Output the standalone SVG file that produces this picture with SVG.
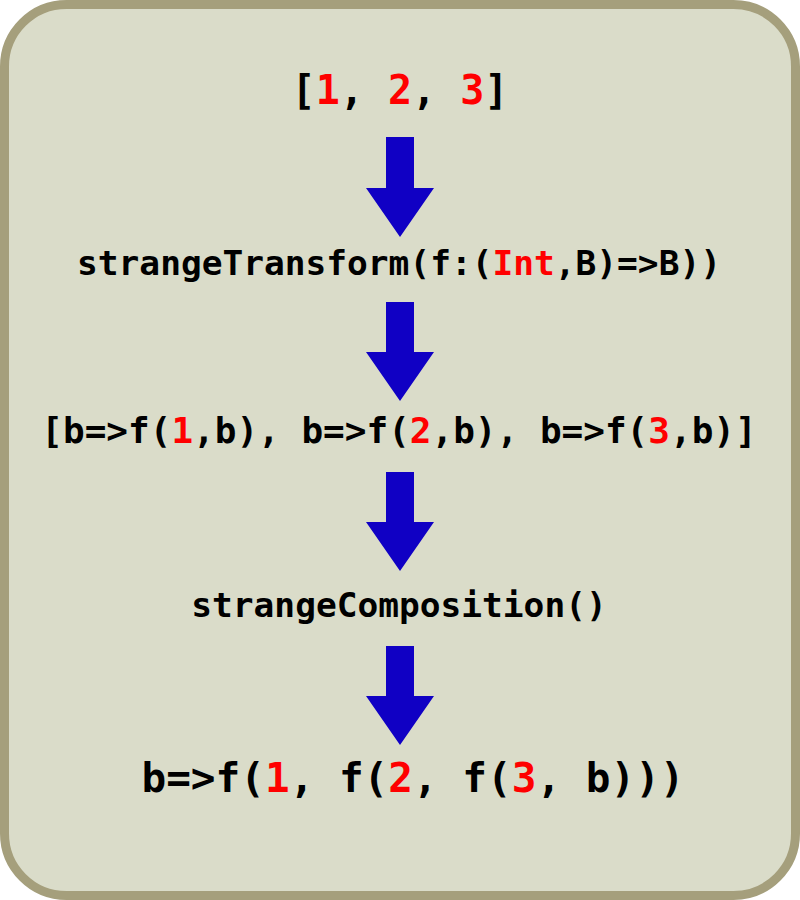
<svg xmlns="http://www.w3.org/2000/svg" width="800" height="900" viewBox="0 0 800 900">
<style>
.t{font-family:"DejaVu Sans Mono","Liberation Mono",monospace;font-weight:bold;fill:#000;text-anchor:middle}
.r{fill:#FF0000}
.arrow{fill:#1000C4}
</style>
<rect x="4.5" y="4.5" width="791" height="891" rx="62" ry="62" fill="#DADCC9" stroke="#A59F7C" stroke-width="9"/>
<g id="connectors">
<path class="arrow" d="M386,137 H414 V188 H434 L400,237 L366,188 H386 Z"/>
<path class="arrow" d="M386,302 H414 V352 H434 L400,401 L366,352 H386 Z"/>
<path class="arrow" d="M386,472 H414 V522 H434 L400,571 L366,522 H386 Z"/>
<path class="arrow" d="M386,646 H414 V696 H434 L400,745 L366,696 H386 Z"/>
</g>
<g id="node-list">
<text class="t" x="400" y="104" font-size="40">[<tspan class="r">1</tspan>, <tspan class="r">2</tspan>, <tspan class="r">3</tspan>]</text>
</g>
<g id="node-transform">
<text class="t" x="399" y="275" font-size="34.5">strangeTransform(f:(<tspan class="r">Int</tspan>,B)=&gt;B))</text>
</g>
<g id="node-functions">
<text class="t" x="399" y="443" font-size="36">[b=&gt;f(<tspan class="r">1</tspan>,b), b=&gt;f(<tspan class="r">2</tspan>,b), b=&gt;f(<tspan class="r">3</tspan>,b)]</text>
</g>
<g id="node-composition">
<text class="t" x="399" y="617" font-size="34.5">strangeComposition()</text>
</g>
<g id="node-result">
<text class="t" x="413" y="792" font-size="41">b=&gt;f(<tspan class="r">1</tspan>, f(<tspan class="r">2</tspan>, f(<tspan class="r">3</tspan>, b)))</text>
</g>
</svg>
